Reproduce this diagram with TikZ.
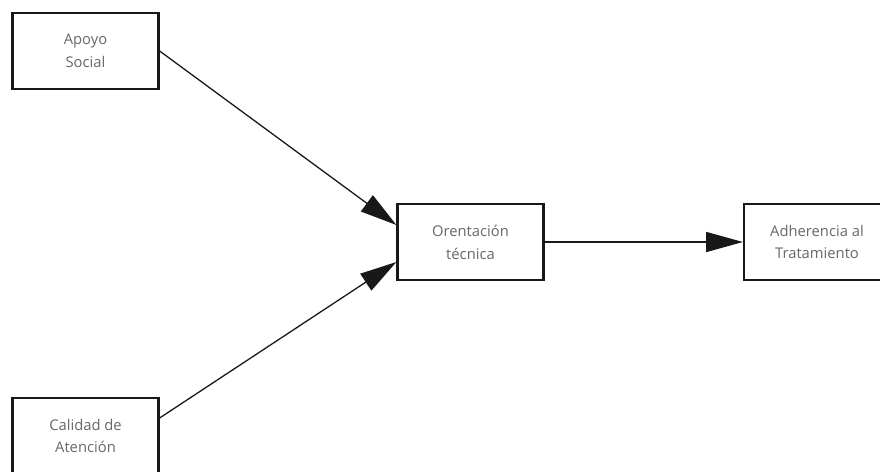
\documentclass[tikz,border=0pt]{standalone}
\usepackage{fontspec}
\setmainfont{Open Sans}
\usetikzlibrary{arrows.meta}

\definecolor{modelText}{RGB}{104,104,104}
\definecolor{modelLine}{RGB}{24,24,24}

\begin{document}
\begin{tikzpicture}[x=.03cm,y=-.03cm,
      factor/.style={draw=modelLine, fill=white, line width=1.9pt,
        minimum width=4.38cm, minimum height=2.28cm, inner sep=0pt,
        align=center, text=modelText,
        font=\fontsize{12.6}{19.5}\selectfont},
      link/.style={draw=modelLine, line width=1.1pt,
        -{Triangle[length=1.1cm, width=.6cm]}}]
      \useasboundingbox (0,0) rectangle (880,471);
      \fill[white] (0,0) rectangle (880,471);

      \node[factor] (apoyo) at (85.5,51) {Apoyo\\Social};
      \node[factor] (calidad) at (85.5,436) {Calidad de\\Atención};
      \node[factor] (orient) at (470.5,242) {Orentación\\técnica};
      \node[factor] (adher) at (817,242) {Adherencia al\\Tratamiento};

      \draw[link] (apoyo.east) -- ([yshift=.51cm]orient.west);
      \draw[link] ([yshift=.54cm]calidad.east) -- ([yshift=-.6cm]orient.west);
      \draw[link] (orient.east) -- (adher.west);
    \end{tikzpicture}
\end{document}
